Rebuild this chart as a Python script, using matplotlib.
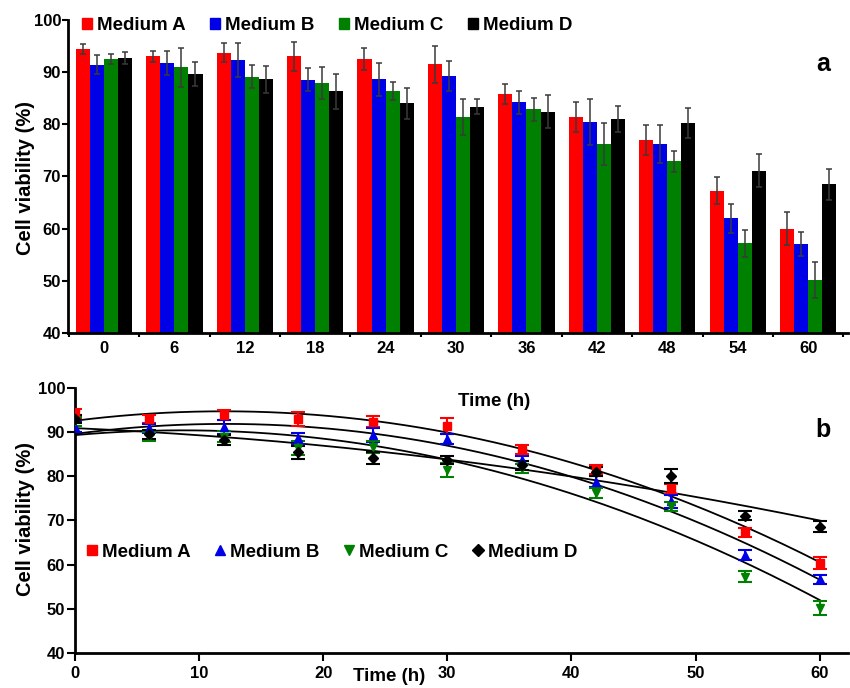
import numpy as np
import matplotlib
matplotlib.use("Agg")
import matplotlib.pyplot as plt
from matplotlib.patches import Rectangle
from matplotlib.lines import Line2D

plt.rcParams["font.family"] = ["Liberation Sans", "DejaVu Sans"]
plt.rcParams["font.weight"] = "bold"

# sampling times (h)
hours = [0, 6, 12, 18, 24, 30, 36, 42, 48, 54, 60]
media = ["Medium A", "Medium B", "Medium C", "Medium D"]
colors = ["#ff0000", "#0000e6", "#008000", "#000000"]

# bar chart: mean viability (%) and SD
bar_a = [94.4, 93.0, 93.7, 93.0, 92.5, 91.5, 85.8, 81.4, 77.0, 67.3, 60.0]
bar_b = [91.4, 91.8, 92.3, 88.5, 88.6, 89.3, 84.2, 80.5, 76.2, 62.0, 57.1]
bar_c = [92.5, 90.9, 89.1, 87.9, 86.4, 81.4, 82.9, 76.2, 72.9, 57.2, 50.2]
bar_d = [92.7, 89.7, 88.6, 86.3, 84.0, 83.4, 82.4, 81.0, 80.2, 71.1, 68.5]
err_a = [1.0, 1.1, 1.8, 2.8, 2.1, 3.6, 1.9, 2.8, 2.9, 2.6, 3.2]
err_b = [1.8, 2.3, 3.3, 2.2, 3.2, 2.9, 2.2, 4.4, 3.6, 2.8, 2.3]
err_c = [0.9, 3.8, 2.2, 3.0, 1.8, 3.4, 2.2, 4.0, 2.0, 2.6, 3.4]
err_d = [1.2, 2.3, 2.6, 3.4, 2.9, 1.5, 3.2, 2.5, 2.9, 3.2, 3.0]

# time-course points with SD
pt_a = [94.3, 93.0, 93.9, 93.0, 92.4, 91.5, 86.0, 81.6, 77.1, 67.3, 60.3]
pt_b = [91.2, 90.9, 91.2, 88.6, 89.4, 88.5, 83.7, 78.8, 74.3, 62.2, 56.7]
pt_c = [92.5, 89.0, 89.0, 86.4, 86.7, 81.4, 81.8, 76.2, 73.2, 57.3, 50.2]
pt_d = [93.0, 89.5, 88.2, 85.4, 84.1, 83.7, 82.5, 81.0, 80.1, 71.1, 68.6]
pt_err_a = [1.0, 1.0, 1.2, 1.6, 1.2, 1.8, 1.0, 1.0, 1.2, 1.0, 1.4]
pt_err_b = [1.2, 1.0, 1.6, 1.2, 1.6, 1.2, 1.0, 1.2, 1.4, 1.2, 1.0]
pt_err_c = [1.0, 1.0, 1.2, 1.6, 1.4, 1.6, 1.0, 1.2, 1.0, 1.2, 1.6]
pt_err_d = [1.0, 1.0, 1.2, 1.4, 1.4, 1.0, 1.0, 1.0, 1.6, 1.0, 1.2]

bars = [bar_a, bar_b, bar_c, bar_d]
bar_errs = [err_a, err_b, err_c, err_d]
points = [pt_a, pt_b, pt_c, pt_d]
point_errs = [pt_err_a, pt_err_b, pt_err_c, pt_err_d]
markers = ["s", "^", "v", "D"]

fig = plt.figure(figsize=(8.5, 6.88), dpi=100)
ax1 = fig.add_axes([0.080, 0.516, 0.918, 0.455])
ax2 = fig.add_axes([0.088, 0.051, 0.910, 0.385])

# panel a: grouped bars
idx = np.arange(len(hours))
w = 0.2
for i in range(4):
    ax1.bar(idx + (i - 1.5) * w, bars[i], w, bottom=0, color=colors[i],
            yerr=bar_errs[i], ecolor="#3a3a3a", capsize=2.5,
            error_kw={"elinewidth": 1.1, "capthick": 1.1}, zorder=2)

ax1.set_xlim(-0.51, 10.57)
ax1.set_ylim(40, 100)
ax1.set_xticks(idx)
ax1.set_xticklabels([str(h) for h in hours])
ax1.set_xticks(np.arange(-0.5, 11, 1), minor=True)
ax1.tick_params(axis="x", which="major", length=0, pad=6, labelsize=12)
ax1.tick_params(axis="x", which="minor", length=3, width=1.5, direction="out")
ax1.set_yticks(range(40, 101, 10))
ax1.tick_params(axis="y", length=4, width=1.5, labelsize=12, pad=1)
for s in ["top", "right"]:
    ax1.spines[s].set_visible(False)
for s in ["left", "bottom"]:
    ax1.spines[s].set_linewidth(2)

handles = [Rectangle((0, 0), 1, 1, color=c) for c in colors]
ax1.legend(handles, media, loc="center left", bbox_to_anchor=(0.018, 0.982),
           ncol=4, frameon=False, fontsize=13.5, handlelength=0.55,
           handleheight=0.55, handletextpad=0.25, columnspacing=1.3,
           borderaxespad=0, borderpad=0)
ax1.text(0.977, 0.86, "a", transform=ax1.transAxes, fontsize=18,
         fontweight="bold", ha="right", va="center")

# panel b: time course with quadratic fits
t = np.array(hours, dtype=float)
t_fit = np.linspace(0, 60, 200)
for i in range(4):
    coef = np.polyfit(t, points[i], 2)
    ax2.plot(t_fit, np.polyval(coef, t_fit), color="black", lw=1.3, zorder=2)
for i in range(4):
    ax2.errorbar(t, points[i], yerr=point_errs[i], fmt=markers[i],
                 color=colors[i], ms=5 if markers[i] == "D" else 6,
                 capsize=5, elinewidth=1.5, capthick=1.5, zorder=3)

ax2.set_xlim(0, 62.3)
ax2.set_ylim(40, 100)
ax2.set_xticks(range(0, 61, 10))
ax2.set_yticks(range(40, 101, 10))
ax2.tick_params(axis="both", length=6, width=1.5, labelsize=12)
ax2.tick_params(axis="y", pad=1)
for s in ["top", "right"]:
    ax2.spines[s].set_visible(False)
for s in ["left", "bottom"]:
    ax2.spines[s].set_linewidth(2)

handles2 = [Line2D([], [], ls="none", marker=m, color=c, ms=7 if m != "D" else 6)
            for m, c in zip(markers, colors)]
ax2.legend(handles2, media, loc="center left", bbox_to_anchor=(0.016, 0.38),
           ncol=4, frameon=False, fontsize=13.5, handlelength=0.55,
           handletextpad=0.25, columnspacing=1.3, borderaxespad=0,
           borderpad=0)
ax2.text(0.977, 0.84, "b", transform=ax2.transAxes, fontsize=18,
         fontweight="bold", ha="right", va="center")

# axis titles
fig.text(0.030, 0.742, "Cell viability (%)", rotation=90, fontsize=14.5,
         fontweight="bold", ha="center", va="center")
fig.text(0.030, 0.245, "Cell viability (%)", rotation=90, fontsize=14.5,
         fontweight="bold", ha="center", va="center")
fig.text(0.539, 0.416, "Time (h)", fontsize=13.5, fontweight="bold",
         ha="left", va="center")
fig.text(0.415, 0.016, "Time (h)", fontsize=13.5, fontweight="bold",
         ha="left", va="center")

fig.savefig("out.png", dpi=100)
